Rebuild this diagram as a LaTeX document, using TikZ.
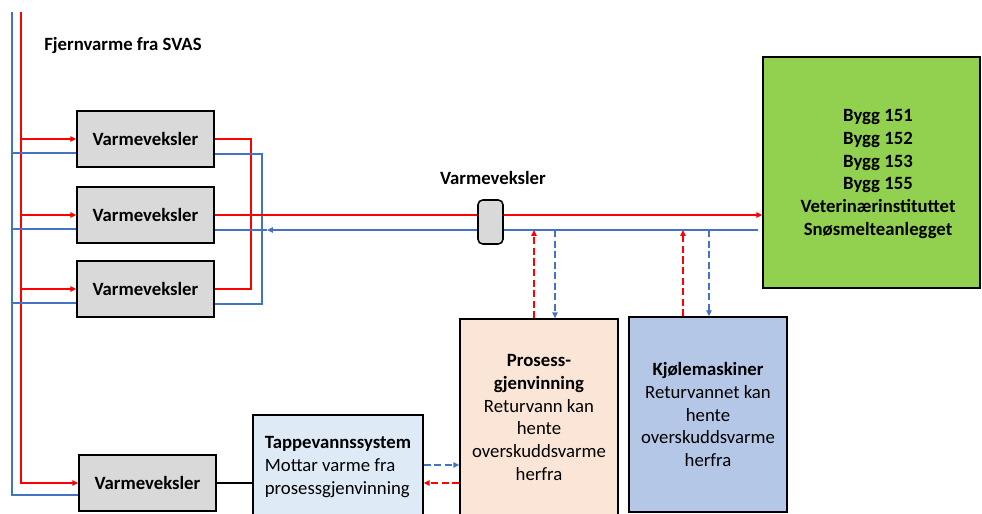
\documentclass[tikz,border=0pt]{standalone}
\usepackage{fontspec}
\setmainfont{Carlito}
\usetikzlibrary{calc,arrows.meta,backgrounds}
\definecolor{pipered}{RGB}{255,0,0}
\definecolor{pipeblue}{RGB}{68,114,196}
\definecolor{hxgray}{RGB}{217,217,217}
\definecolor{byggreen}{RGB}{146,208,80}
\definecolor{prosfill}{RGB}{251,229,214}
\definecolor{kjolfill}{RGB}{180,199,231}
\definecolor{tappfill}{RGB}{222,235,247}

\begin{document}
\begin{tikzpicture}[x=0.03cm,y=-0.03cm,
  every node/.style={font=\fontsize{16}{19.6}\selectfont},
  hx/.style={draw=black,line width=1.3pt,fill=hxgray,minimum width=4.11cm,minimum height=1.68cm,font=\fontsize{16}{19.6}\selectfont\bfseries},
  unit/.style={draw=black,line width=1.3pt,align=center,inner sep=2pt},
  redpipe/.style={pipered,line width=1.5pt},
  bluepipe/.style={pipeblue,line width=1.5pt},
  tip/.style={-{Triangle[length=5pt,width=4.5pt]}},
  flow/.style={dash pattern=on 6pt off 3pt}]
\useasboundingbox (0,0) rectangle (982,514);
\clip (0,0) rectangle (982,514);
\node[font=\fontsize{16}{19.6}\selectfont\bfseries] (svas) at (123,46) {Fjernvarme fra SVAS};
\node[hx] (vv1) at (145.5,139) {Varmeveksler};
\node[hx] (vv2) at (145.5,215) {Varmeveksler};
\node[hx] (vv3) at (145.5,289) {Varmeveksler};
\node[hx] (vv4) at (147.5,483) {Varmeveksler};
\node[draw=black,line width=1.3pt,fill=hxgray,rounded corners=4pt,minimum width=0.75cm,minimum height=1.32cm] (vvmid) at (490.5,222) {};
\node[font=\fontsize{16}{19.6}\selectfont\bfseries] (vvlabel) at (493,178) {Varmeveksler};
\node[unit,fill=byggreen,minimum width=6.51cm,minimum height=6.93cm] (bygg) at (871.5,172.5) {};
\node[align=center,font=\fontsize{16}{19.6}\selectfont\bfseries] (byggtxt) at (878,174) {Bygg 151\\Bygg 152\\Bygg 153\\Bygg 155\\Veterinærinstituttet\\Snøsmelteanlegget};
\node[unit,fill=prosfill,minimum width=4.74cm,minimum height=5.91cm] (prosess) at (539,417.5) {\textbf{Prosess-}\\\textbf{gjenvinning}\\Returvann kan\\hente\\overskuddsvarme\\herfra};
\node[unit,fill=kjolfill,minimum width=4.74cm,minimum height=5.85cm] (kjole) at (708,414.5) {\textbf{Kjølemaskiner}\\Returvannet kan\\hente\\overskuddsvarme\\herfra};
\node[draw=black,line width=1.3pt,fill=tappfill,align=left,minimum width=5.1cm,minimum height=3.12cm] (tappe) at (338,467) {\textbf{Tappevannssystem}\\Mottar varme fra\\prosessgjenvinning};
\begin{scope}[on background layer]
\coordinate (rtop) at (21,12);
\coordinate (btop) at (12,12);
\coordinate (rret) at (251,0);
\coordinate (bret) at (262,0);
\coordinate (vv4b) at ($(vv4.west)+(0,12)$);
% tilfoersel og retur fra SVAS
\draw[redpipe,tip] (rtop) -- (rtop|-vv4.west) -- (vv4.west);
\draw[bluepipe] (btop) -- (btop|-vv4b) -- (vv4b);
\foreach \n in {1,2,3}{
  \coordinate (vv\n b) at ($(vv\n.west)+(0,14)$);
  \coordinate (vv\n c) at ($(vv\n.east)+(0,15)$);
  \draw[redpipe,tip] (rtop|-vv\n.west) -- (vv\n.west);
  \draw[bluepipe] (vv\n b) -- (btop|-vv\n b);
}
\draw[redpipe] (vv1.east) -- (rret|-vv1.east) -- (rret|-vv3.east) -- (vv3.east);
\draw[bluepipe] (vv1c) -- (bret|-vv1c) -- (bret|-vv3c) -- (vv3c);
% hovedledning til byggene
\draw[redpipe,tip] (vv2.east) -- (vv2.east-|bygg.west);
\coordinate (bmark) at ($(bret|-vv2c)+(5,0)$);
\draw[bluepipe,tip] ($(bygg.west|-vv2c)+(-4,0)$) -- (bmark);
\draw[bluepipe] (bmark) -- (vv2c);
\end{scope}
% uttak fra returledningen
\coordinate (p1) at ($(prosess.north)+(-5,0)$);
\coordinate (p2) at ($(prosess.north)+(16,0)$);
\coordinate (k1) at ($(kjole.north)+(-25,0)$);
\coordinate (k2) at ($(kjole.north)+(1,0)$);
\draw[redpipe,flow,tip] (p1) -- (p1|-vv2c);
\draw[bluepipe,flow,tip] (p2|-vv2c) -- (p2);
\draw[redpipe,flow,tip] (k1) -- (k1|-vv2c);
\draw[bluepipe,flow,tip] (k2|-vv2c) -- (k2);
% tappevann
\draw[black,line width=1.5pt] (vv4.east) -- (vv4.east-|tappe.west);
\coordinate (tr) at ($(tappe.east)+(0,16)$);
\draw[bluepipe,flow,tip] ($(tappe.east)+(0,-2)$) -- ($(tappe.east-|prosess.west)+(0,-2)$);
\draw[redpipe,flow,tip] (tr-|prosess.west) -- (tr);
\end{tikzpicture}
\end{document}
